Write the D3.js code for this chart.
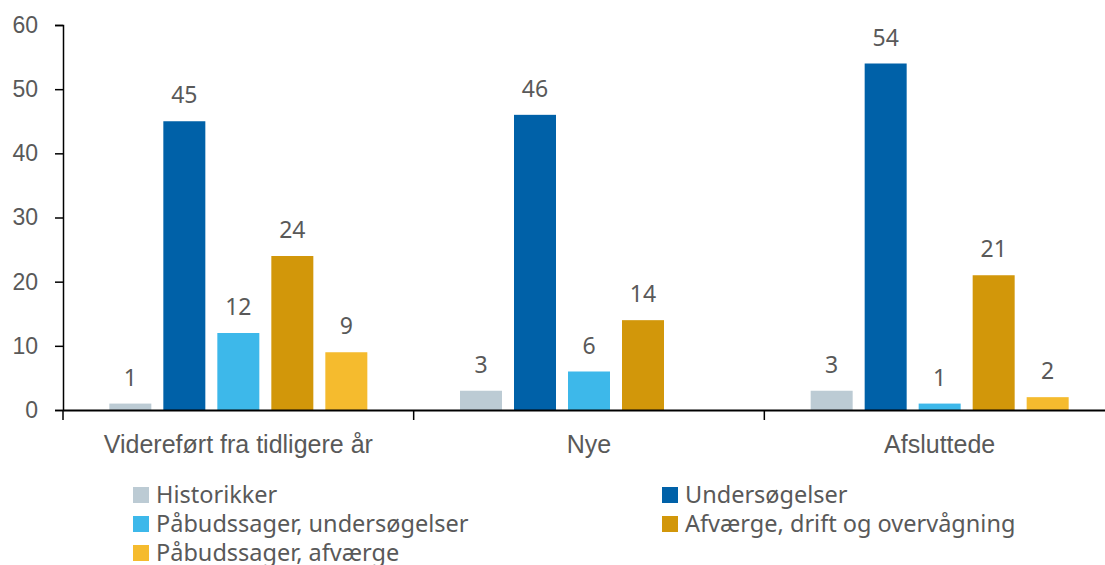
<!DOCTYPE html>
<html><head><meta charset="utf-8">
<script src="https://cdn.jsdelivr.net/npm/d3@7"></script>
<style>body{margin:0;background:#fff}svg{display:block;font-family:"Noto Sans","Open Sans",sans-serif}</style>
</head><body><svg id="c" width="1105" height="565"></svg>
<script>
const categories = ["Videreført fra tidligere år", "Nye", "Afsluttede"];
const seriesNames = ["Historikker", "Undersøgelser", "Påbudssager, undersøgelser", "Afværge, drift og overvågning", "Påbudssager, afværge"];
const historikker = [1, 3, 3];
const undersogelser = [45, 46, 54];
const pabudUnders = [12, 6, 1];
const afvaerge = [24, 14, 21];
const pabudAfvaerge = [9, null, 2];
const yTicks = [0, 10, 20, 30, 40, 50, 60];
const colors = ["#bccbd4", "#0061a8", "#3db8ea", "#d2970a", "#f5bb2e"];

const seriesValues = [historikker, undersogelser, pabudUnders, afvaerge, pabudAfvaerge];
const svg = d3.select("#c");
const textColor = "#595959";
const x0 = 63, xEnd = 1115, yTop = 25, yBottom = 410;

const x = d3.scaleBand().domain(categories).range([x0, xEnd]).paddingInner(0).paddingOuter(0);
const y = d3.scaleLinear().domain([0, 60]).range([yBottom, yTop]);
const bw = 42, step = 54;
const xs = d3.scaleBand().domain(seriesNames).range([-2.5 * step, 2.5 * step]).paddingInner((step - bw) / step).paddingOuter((step - bw) / step / 2);

// y axis
const yAxis = svg.append("g").attr("transform", `translate(${x0},0)`)
  .call(d3.axisLeft(y).tickValues(yTicks).tickSize(8).tickPadding(17));
yAxis.select(".domain").attr("stroke", "#000").attr("stroke-width", 1.5);
yAxis.selectAll(".tick line").attr("stroke", "#000").attr("stroke-width", 1.5);
yAxis.selectAll(".tick text").attr("fill", textColor).style("font-size", "23px").attr("font-family", null);

// bars
categories.forEach((c, ci) => {
  const cx = x(c) + x.bandwidth() / 2;
  seriesNames.forEach((s, si) => {
    const v = seriesValues[si][ci];
    if (v == null) return;
    const bx = cx + xs(s);
    svg.append("rect").attr("x", bx).attr("y", y(v)).attr("width", xs.bandwidth()).attr("height", y(0) - y(v)).attr("fill", colors[si]);
    svg.append("text").attr("x", bx + xs.bandwidth() / 2).attr("y", y(v) - 18).attr("text-anchor", "middle")
      .attr("fill", textColor).style("font-size", "23px").text(v);
  });
});

// x axis
const xAxis = svg.append("g").attr("transform", `translate(0,${yBottom})`)
  .call(d3.axisBottom(x).tickSize(0).tickPadding(25).tickSizeOuter(0));
xAxis.select(".domain").attr("stroke", "#000").attr("stroke-width", 2);
xAxis.selectAll(".tick text").attr("fill", textColor).style("font-size", "25px").attr("font-family", null);
categories.forEach(c => {
  svg.append("line").attr("x1", x(c)).attr("x2", x(c)).attr("y1", yBottom).attr("y2", yBottom + 10).attr("stroke", "#000").attr("stroke-width", 1.5);
});

// legend
const legPos = [[133, 495], [662, 495], [133, 524], [662, 524], [133, 553]];
seriesNames.forEach((s, i) => {
  const [lx, ly] = legPos[i];
  const g = svg.append("g").attr("transform", `translate(${lx},${ly})`);
  g.append("rect").attr("x", 0).attr("y", -8).attr("width", 16).attr("height", 16).attr("fill", colors[i]);
  g.append("text").attr("x", 23).attr("y", 0).attr("dy", "0.35em").attr("fill", textColor).style("font-size", "23.5px").text(s);
});
</script></body></html>
